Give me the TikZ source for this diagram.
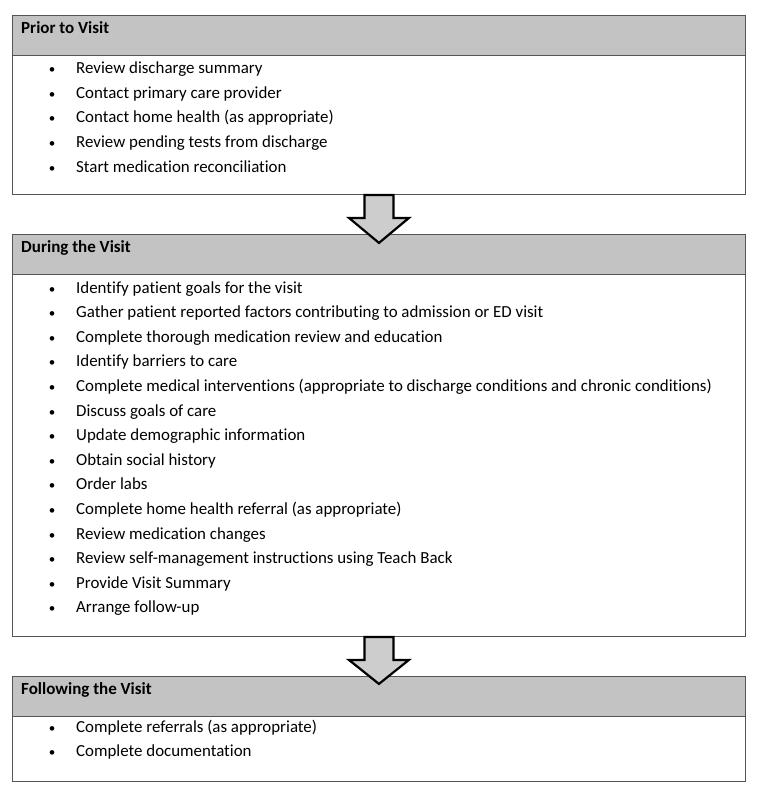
\documentclass[tikz,border=0pt]{standalone}
\usepackage{fontspec}
\setmainfont{Carlito}[Ligatures=NoCommon]
\usetikzlibrary{calc}
\definecolor{linegray}{HTML}{555555}
\definecolor{hdrgray}{HTML}{C3C3C3}
\definecolor{arrowgray}{HTML}{CDCDCD}
\begin{document}
\begin{tikzpicture}[x=1pt,y=-1pt,
  hdr/.style={draw=linegray, fill=hdrgray, line width=0.9pt, minimum width=733pt, minimum height=40pt, inner sep=0pt, anchor=north west},
  bodybox/.style={draw=linegray, line width=0.9pt, minimum width=733pt, inner sep=0pt, anchor=north west},
  title/.style={font=\fontsize{17}{19}\selectfont\bfseries, anchor=base west, inner sep=0pt},
  item/.style={font=\fontsize{16.9}{19}\selectfont, anchor=base west, inner sep=0pt},
  bul/.style={font=\fontsize{13}{17}\selectfont, anchor=base, inner sep=0pt},
  bigarrow/.style={draw=black, fill=arrowgray, line width=2.2pt, line join=miter, miter limit=10}]
\useasboundingbox (0,0) rectangle (757,797);

% Box 1
\node[bodybox, minimum height=139pt] (b1) at (12,55) {};
\node[hdr] (h1) at (12,15) {};
\node[title] (t1) at (21,33.5) {Prior to Visit};
\foreach \txt [count=\i from 0] in {Review discharge summary,Contact primary care provider,Contact home health (as appropriate),Review pending tests from discharge,Start medication reconciliation}{
  \node[bul] (b1d\i) at (52,74+24.5*\i) {•};
  \node[item] (b1i\i) at (76,74+24.5*\i) {\txt};
}

% Box 2
\node[bodybox, minimum height=362pt] (b2) at (12,274) {};
\node[hdr] (h2) at (12,234) {};
\node[title] (t2) at (21,252.5) {During the Visit};
\foreach \txt [count=\i from 0] in {Identify patient goals for the visit,Gather patient reported factors contributing to admission or ED visit,Complete thorough medication review and education,Identify barriers to care,Complete medical interventions (appropriate to discharge conditions and chronic conditions),Discuss goals of care,Update demographic information,Obtain social history,Order labs,Complete home health referral (as appropriate),Review medication changes,Review self-management instructions using Teach Back,Provide Visit Summary,Arrange follow-up}{
  \node[bul] (b2d\i) at (52,293+24.6*\i) {•};
  \node[item] (b2i\i) at (76,293+24.6*\i) {\txt};
}

% Box 3
\node[bodybox, minimum height=65pt] (b3) at (12,716) {};
\node[hdr] (h3) at (12,676) {};
\node[title] (t3) at (21,694.5) {Following the Visit};
\foreach \txt [count=\i from 0] in {Complete referrals (as appropriate),Complete documentation}{
  \node[bul] (b3d\i) at (52,732+24.6*\i) {•};
  \node[item] (b3i\i) at (76,732+24.6*\i) {\txt};
}

% Arrows
\draw[bigarrow] ($(b1.south)+(-14.5,0)$) -- ++(0,23) -- ++(-15.5,0) -- ($(b1.south)+(0,48)$) -- ($(b1.south)+(30,23)$) -- ++(-15.5,0) -- ($(b1.south)+(14.5,0)$) -- cycle;
\draw[bigarrow] ($(b2.south)+(-14.5,0)$) -- ++(0,23) -- ++(-15.5,0) -- ($(b2.south)+(0,47)$) -- ($(b2.south)+(30,23)$) -- ++(-15.5,0) -- ($(b2.south)+(14.5,0)$) -- cycle;
\end{tikzpicture}
\end{document}
